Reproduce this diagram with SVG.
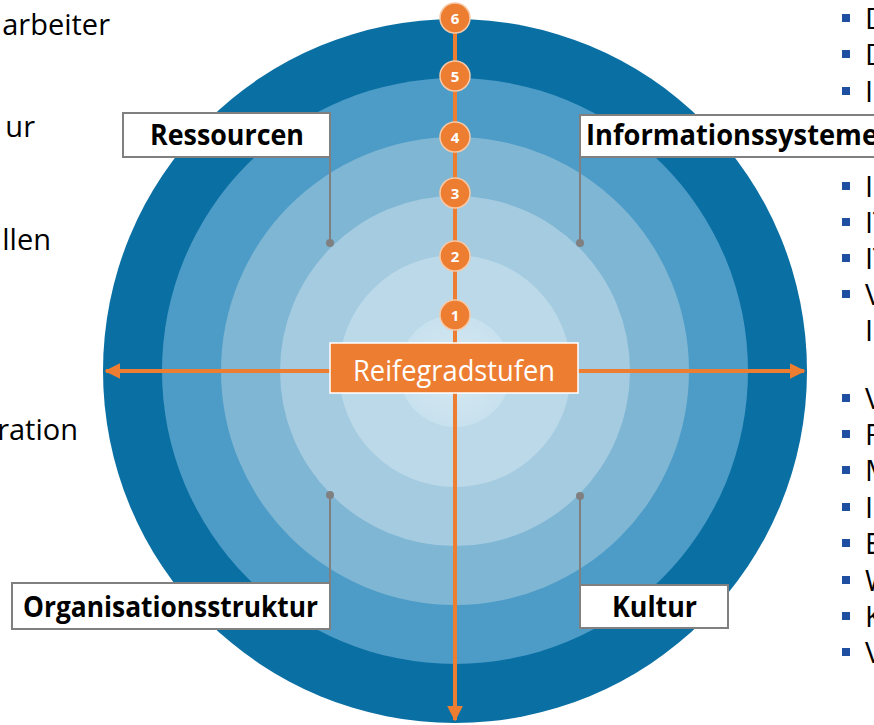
<svg xmlns="http://www.w3.org/2000/svg" width="874" height="725" viewBox="0 0 874 725">
  <defs>
    <style>
      .side { font-family: "Open Sans", "Liberation Sans", sans-serif; font-size: 29px; fill: #000; }
      .label { font-family: "Open Sans", "Liberation Sans", sans-serif; font-size: 28px; font-weight: bold; fill: #000; }
      .box { fill: #ffffff; stroke: #808080; stroke-width: 2; }
      .leader { stroke: #808080; stroke-width: 2; fill: none; }
      .dot { fill: #808080; }
      .axis { stroke: #ED7D31; stroke-width: 4; fill: none; }
      .step circle { fill: #ED7D31; stroke: #F6C9A8; stroke-width: 1.5; }
      .step text { font-family: "Open Sans", "Liberation Sans", sans-serif; font-size: 15px; font-weight: bold; fill: #ffffff; text-anchor: middle; }
      .bullet { fill: #1F4FA0; }
    </style>
    <marker id="arrow" viewBox="0 0 10 10" refX="9" refY="5" markerWidth="4" markerHeight="4" orient="auto" markerUnits="strokeWidth">
      <path d="M0,0 L10,5 L0,10 Z" fill="#ED7D31"/>
    </marker>
    <radialGradient id="core" cx="0.5" cy="0.5" r="0.5">
      <stop offset="0" stop-color="#D6EAF3"/>
      <stop offset="1" stop-color="#C8E1EE"/>
    </radialGradient>
  </defs>

  <!-- concentric maturity rings -->
  <g id="rings">
    <circle cx="455" cy="371" r="352" fill="#0A6FA3"/>
    <circle cx="455" cy="371" r="293" fill="#4C9CC7"/>
    <circle cx="455" cy="371" r="234" fill="#7EB6D4"/>
    <circle cx="455" cy="371" r="175" fill="#A4CBE0"/>
    <circle cx="455" cy="371" r="116" fill="#BBD9E8"/>
    <circle cx="455" cy="371" r="56" fill="url(#core)"/>
  </g>

  <!-- side texts (cut at the frame edge) -->
  <g id="left-texts">
    <text class="side" x="110" y="35" text-anchor="end">arbeiter</text>
    <text class="side" x="35" y="137" text-anchor="end">ur</text>
    <text class="side" x="51" y="250" text-anchor="end">llen</text>
    <text class="side" x="78" y="440" text-anchor="end">ration</text>
  </g>

  <g id="right-bullets">
    <rect class="bullet" x="842" y="14" width="8" height="8"/>
    <text class="side" x="865" y="29">D</text>
    <rect class="bullet" x="842" y="50" width="8" height="8"/>
    <text class="side" x="865" y="65">D</text>
    <rect class="bullet" x="842" y="87" width="8" height="8"/>
    <text class="side" x="865" y="102">I</text>

    <rect class="bullet" x="842" y="182" width="8" height="8"/>
    <text class="side" x="865" y="197">I</text>
    <rect class="bullet" x="842" y="218" width="8" height="8"/>
    <text class="side" x="865" y="233">IT</text>
    <rect class="bullet" x="842" y="254" width="8" height="8"/>
    <text class="side" x="865" y="269">IT</text>
    <rect class="bullet" x="842" y="290" width="8" height="8"/>
    <text class="side" x="865" y="305">V</text>
    <text class="side" x="865" y="341">I</text>

    <rect class="bullet" x="842" y="394" width="8" height="8"/>
    <text class="side" x="865" y="409">V</text>
    <rect class="bullet" x="842" y="430" width="8" height="8"/>
    <text class="side" x="865" y="445">F</text>
    <rect class="bullet" x="842" y="466" width="8" height="8"/>
    <text class="side" x="865" y="481">M</text>
    <rect class="bullet" x="842" y="503" width="8" height="8"/>
    <text class="side" x="865" y="518">I</text>
    <rect class="bullet" x="842" y="539" width="8" height="8"/>
    <text class="side" x="865" y="554">E</text>
    <rect class="bullet" x="842" y="576" width="8" height="8"/>
    <text class="side" x="865" y="591">W</text>
    <rect class="bullet" x="842" y="612" width="8" height="8"/>
    <text class="side" x="865" y="627">K</text>
    <rect class="bullet" x="842" y="648" width="8" height="8"/>
    <text class="side" x="865" y="663">V</text>
  </g>

  <!-- axes and leader lines -->
  <g id="connectors">
    <line class="axis" x1="455" y1="18" x2="455" y2="720" marker-end="url(#arrow)"/>
    <line class="axis" x1="455" y1="371" x2="106" y2="371" marker-end="url(#arrow)"/>
    <line class="axis" x1="455" y1="371" x2="804" y2="371" marker-end="url(#arrow)"/>

    <line class="leader" x1="330" y1="157" x2="330" y2="243"/>
    <circle class="dot" cx="330" cy="243" r="4"/>
    <line class="leader" x1="580" y1="157" x2="580" y2="243"/>
    <circle class="dot" cx="580" cy="243" r="4"/>
    <line class="leader" x1="330" y1="495" x2="330" y2="583"/>
    <circle class="dot" cx="330" cy="495" r="4"/>
    <line class="leader" x1="580" y1="496" x2="580" y2="585"/>
    <circle class="dot" cx="580" cy="496" r="4"/>
  </g>

  <!-- numbered maturity steps -->
  <g id="step-6" class="step"><circle cx="455" cy="18" r="15"/><text x="455" y="23.5">6</text></g>
  <g id="step-5" class="step"><circle cx="455" cy="76" r="15"/><text x="455" y="81.5">5</text></g>
  <g id="step-4" class="step"><circle cx="455" cy="137" r="15"/><text x="455" y="142.5">4</text></g>
  <g id="step-3" class="step"><circle cx="455" cy="193" r="15"/><text x="455" y="198.5">3</text></g>
  <g id="step-2" class="step"><circle cx="455" cy="256" r="15"/><text x="455" y="261.5">2</text></g>
  <g id="step-1" class="step"><circle cx="455" cy="315" r="15"/><text x="455" y="320.5">1</text></g>

  <g id="reifegradstufen">
    <rect x="330" y="343" width="248" height="50" fill="#ED7D31" stroke="#ffffff" stroke-width="1.5"/>
    <text x="353" y="381" font-family="Open Sans, Liberation Sans, sans-serif" font-size="29" fill="#ffffff" textLength="202" lengthAdjust="spacingAndGlyphs">Reifegradstufen</text>
  </g>

  <g id="ressourcen">
    <rect class="box" x="123" y="113" width="207" height="44"/>
    <text class="label" x="150" y="145" textLength="154" lengthAdjust="spacingAndGlyphs">Ressourcen</text>
  </g>

  <g id="informationssysteme">
    <rect class="box" x="580" y="115" width="310" height="42"/>
    <text class="label" x="586" y="145" textLength="292" lengthAdjust="spacingAndGlyphs">Informationssysteme</text>
  </g>

  <g id="organisationsstruktur">
    <rect class="box" x="12" y="583" width="318" height="46"/>
    <text class="label" x="23" y="617" textLength="295" lengthAdjust="spacingAndGlyphs">Organisationsstruktur</text>
  </g>

  <g id="kultur">
    <rect class="box" x="580" y="585" width="148" height="43"/>
    <text class="label" x="612" y="617" textLength="85" lengthAdjust="spacingAndGlyphs">Kultur</text>
  </g>
</svg>
